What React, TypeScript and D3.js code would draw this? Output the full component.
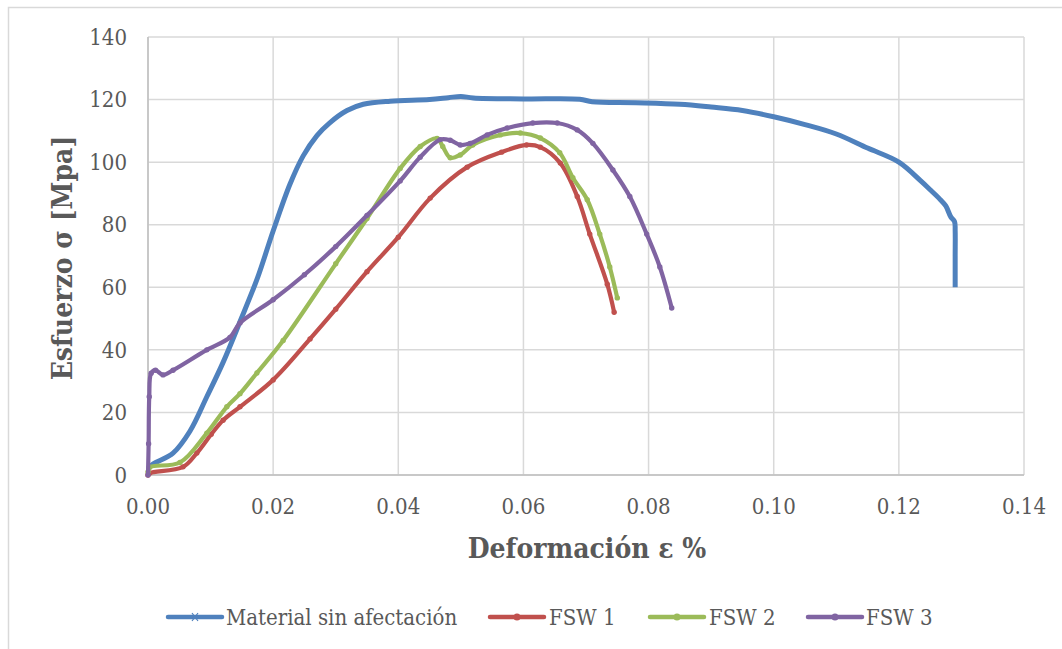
import React from "react";
import * as d3 from "d3";

// Deformación ε % (x) and Esfuerzo σ MPa (y)
const baseStrain = [0, 0.0008, 0.004, 0.0067, 0.0094, 0.012, 0.0147, 0.0175, 0.02, 0.0227, 0.0248, 0.027, 0.029, 0.0318, 0.0344, 0.0387, 0.045, 0.048, 0.05, 0.052, 0.06, 0.069, 0.071, 0.078, 0.085, 0.09, 0.095, 0.1, 0.105, 0.11, 0.115, 0.12, 0.1235, 0.1251, 0.1264, 0.1275, 0.1283, 0.1289, 0.129, 0.129, 0.129];
const baseStress = [2, 3.5, 7, 14, 25, 36, 49, 63, 78, 93, 102, 108.5, 112.5, 116.5, 118.5, 119.5, 120, 120.6, 121, 120.5, 120.2, 120.1, 119.3, 119, 118.5, 117.6, 116.5, 114.5, 112, 109, 104.5, 100, 94, 91, 88.5, 86, 82.5, 81, 78, 70, 60];

const fsw1Strain = [0, 0.0003, 0.0056, 0.0078, 0.0101, 0.012, 0.0147, 0.02, 0.0259, 0.03, 0.035, 0.04, 0.0451, 0.051, 0.0565, 0.0605, 0.0627, 0.0659, 0.0686, 0.0706, 0.0734, 0.0745];
const fsw1Stress = [0, 0.6, 2.6, 7, 13, 17.5, 21.8, 30.4, 43.5, 53, 65, 76, 88.5, 98.4, 103.2, 105.5, 104.8, 99.7, 89, 77, 61, 52];

const fsw2Strain = [0, 0.0003, 0.0051, 0.0094, 0.0126, 0.0147, 0.0174, 0.0216, 0.03, 0.035, 0.0403, 0.0435, 0.0462, 0.0471, 0.0483, 0.0499, 0.0519, 0.0563, 0.0595, 0.0627, 0.0658, 0.0679, 0.0702, 0.0722, 0.0738, 0.075];
const fsw2Stress = [1, 2.5, 4, 13.4, 21.8, 26, 32.6, 43, 67.5, 82, 98, 105, 107.6, 105, 101.4, 102.3, 105.5, 108.7, 109.3, 107.7, 103, 95, 88, 77, 66.5, 56.6];

const fsw3Strain = [0, 0.0001, 0.0002, 0.0005, 0.0012, 0.0024, 0.004, 0.0094, 0.0131, 0.0147, 0.02, 0.025, 0.03, 0.035, 0.0403, 0.0435, 0.0467, 0.0483, 0.0499, 0.0515, 0.0542, 0.0574, 0.0615, 0.0654, 0.0686, 0.0711, 0.0743, 0.077, 0.0797, 0.0818, 0.0837];
const fsw3Stress = [0, 10, 25, 32.5, 33.5, 32, 33.5, 40, 44, 48.6, 56, 64, 73, 83, 94, 101.6, 107.2, 107, 105.5, 106, 108.7, 110.9, 112.5, 112.5, 110.3, 106, 97.5, 89, 77, 66.5, 53.4];

const seriesNames = ["Material sin afectación", "FSW 1", "FSW 2", "FSW 3"];
const seriesColors = ["#4f81bd", "#c0504d", "#9bbb59", "#8064a2"];
const xTicks = [0, 0.02, 0.04, 0.06, 0.08, 0.1, 0.12, 0.14];
const yTicks = [0, 20, 40, 60, 80, 100, 120, 140];

const FONT = "'DejaVu Serif Condensed', 'DejaVu Serif', serif";

export default function App() {
  const x = d3.scaleLinear().domain([0, 0.14]).range([148, 1024]);
  const y = d3.scaleLinear().domain([0, 140]).range([475, 37]);

  const series = [
    [baseStrain, baseStress],
    [fsw1Strain, fsw1Stress],
    [fsw2Strain, fsw2Stress],
    [fsw3Strain, fsw3Stress],
  ].map(([xs, ys]) => xs.map((v, i) => [v, ys[i]] as [number, number]));

  const line = d3
    .line<[number, number]>()
    .x((d) => x(d[0]))
    .y((d) => y(d[1]))
    .curve(d3.curveCatmullRom.alpha(0.5));

  const legendItems = [
    { lx: 168, tx: 226 },
    { lx: 490, tx: 549 },
    { lx: 650, tx: 709 },
    { lx: 808, tx: 866 },
  ];

  return (
    <svg
      width={1062}
      height={649}
      style={{ position: "absolute", left: 0, top: 0, background: "#fff" }}
      fontFamily={FONT}
    >
      <rect x={8.5} y={7.5} width={1070} height={660} fill="#fff" stroke="#d9d9d9" strokeWidth={1.5} />

      {/* grid */}
      {yTicks.map((t) => (
        <line key={"gy" + t} x1={148} x2={1024} y1={y(t)} y2={y(t)} stroke="#d9d9d9" strokeWidth={1.5} />
      ))}
      {xTicks.map((t) => (
        <line key={"gx" + t} x1={x(t)} x2={x(t)} y1={37} y2={475} stroke="#d9d9d9" strokeWidth={1.5} />
      ))}
      <line x1={148} x2={148} y1={37} y2={475} stroke="#bfbfbf" strokeWidth={1.5} />
      <line x1={148} x2={1024} y1={475} y2={475} stroke="#bfbfbf" strokeWidth={1.5} />

      {/* tick labels */}
      {yTicks.map((t) => (
        <text key={"ly" + t} x={127} y={y(t)} dy="0.35em" textAnchor="end" fontSize={22} fill="#595959">
          {t}
        </text>
      ))}
      {xTicks.map((t) => (
        <text key={"lx" + t} x={x(t)} y={506} dy="0.35em" textAnchor="middle" fontSize={22} fill="#595959">
          {d3.format(".2f")(t)}
        </text>
      ))}

      {/* axis titles */}
      <text x={587} y={548} dy="0.35em" textAnchor="middle" fontSize={28} fontWeight="bold" fill="#595959">
        Deformación ε %
      </text>
      <text
        transform={`translate(62, 258) rotate(-90)`}
        dy="0.35em"
        textAnchor="middle"
        fontSize={28}
        fontWeight="bold"
        fill="#595959"
      >
        Esfuerzo σ [Mpa]
      </text>

      {/* series */}
      {series.map((pts, i) => (
        <g key={"s" + i}>
          <path
            d={line(pts) || ""}
            fill="none"
            stroke={seriesColors[i]}
            strokeWidth={i === 0 ? 5 : 4.2}
            strokeLinejoin="round"
            strokeLinecap={i === 0 ? "butt" : "round"}
          />
          {i > 0 &&
            pts.map((p, j) => (
              <circle key={j} cx={x(p[0])} cy={y(p[1])} r={2.7} fill={seriesColors[i]} />
            ))}
        </g>
      ))}

      {/* legend */}
      {legendItems.map((it, i) => (
        <g key={"lg" + i}>
          <line x1={it.lx} x2={it.lx + 54} y1={617} y2={617} stroke={seriesColors[i]} strokeWidth={4.5} strokeLinecap="round" />
          {i === 0 ? (
            <path d={`M${it.lx + 24},613 L${it.lx + 30},621 M${it.lx + 30},613 L${it.lx + 24},621`} stroke={seriesColors[i]} strokeWidth={1.2} />
          ) : (
            <circle cx={it.lx + 27} cy={617} r={3.5} fill={seriesColors[i]} />
          )}
          <text x={it.tx} y={617} dy="0.35em" fontSize={22} fill="#595959">
            {seriesNames[i]}
          </text>
        </g>
      ))}
    </svg>
  );
}
